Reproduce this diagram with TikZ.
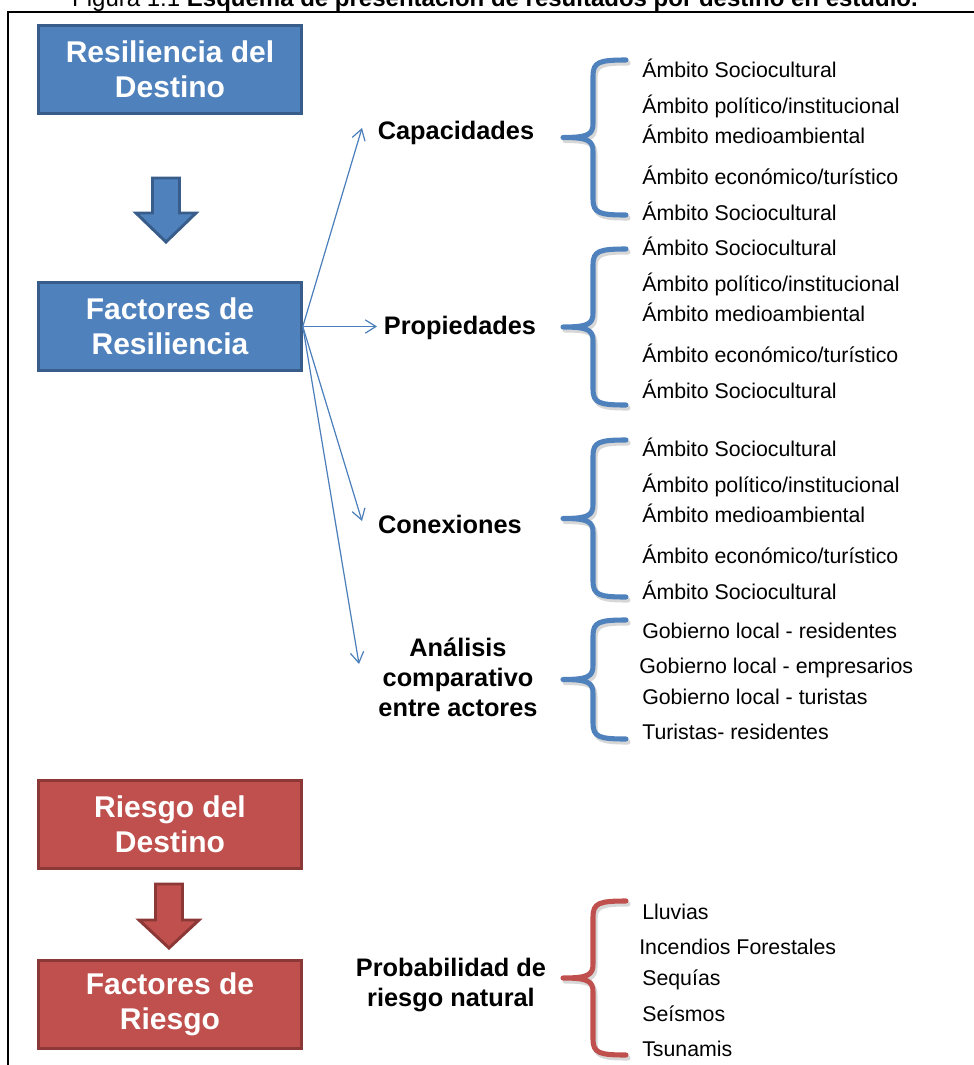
\documentclass[tikz,border=0pt]{standalone}
\usepackage{fontspec}
\setmainfont{Liberation Sans}
\usepackage{xcolor}
\usetikzlibrary{arrows.meta}

\definecolor{resblue}{HTML}{4F81BD}
\definecolor{resblueD}{HTML}{385D8A}
\definecolor{riskred}{HTML}{C0504D}
\definecolor{riskredD}{HTML}{8C3836}
\definecolor{linkblue}{HTML}{4A7EBB}

\tikzset{
  bluebox/.style={rectangle, fill=resblue, draw=resblueD, line width=2.2pt,
    minimum width=197pt, minimum height=66pt, inner sep=0pt, text=white,
    align=center, font=\bfseries\fontsize{22.5}{26}\selectfont},
  redbox/.style={bluebox, fill=riskred, draw=riskredD},
  cat/.style={inner sep=0pt, align=center, font=\bfseries\fontsize{19}{22.5}\selectfont},
  item/.style={anchor=base west, inner sep=0pt, font=\fontsize{16}{19}\selectfont},
  link/.style={->, linkblue, line width=0.9pt},
  curly/.style={line width=3.8pt, line cap=round, line join=round}
}

% curly brace opening to the right: top, middle, bottom
\newcommand{\curlypath}[3]{(626,#1) .. controls (599,#1) and (593,#1+2) .. (593,#1+16)
  -- (593,#2-14) .. controls (593,#2-3) and (588,#2) .. (563,#2)
  .. controls (588,#2) and (593,#2+3) .. (593,#2+14)
  -- (593,#3-16) .. controls (593,#3-2) and (599,#3) .. (626,#3)}

\begin{document}
\begin{tikzpicture}[x=0.75pt, y=-0.75pt, >={Straight Barb[length=8pt,width=10pt]}]
\useasboundingbox (0,0) rectangle (974,1065);

% Caption and frame
\node[anchor=base, inner sep=0pt, font=\fontsize{18}{21}\selectfont] (caption) at (495,6)
  {Figura 1.1 \textbf{Esquema de presentación de resultados por destino en estudio.}};
\draw[line width=1.5pt] (980,12) -- (8,12) -- (8,1070);

%--- Left column: main blocks ---
\node[bluebox] (resdest) at (170,69.5) {Resiliencia del\\Destino};
\node[bluebox] (factres) at (170,326.5) {Factores de\\Resiliencia};
\node[redbox] (riesdest) at (170,824.5) {Riesgo del\\Destino};
\node[redbox] (factries) at (170,1004.5) {Factores de\\Riesgo};

% Block arrows between the boxes
\foreach \cx/\ya/\yh/\yb/\fc/\dc in {166/178/213/242/resblue/resblueD, 169/884/920/948/riskred/riskredD} {
  \draw[fill=\fc, draw=\dc, line width=2.2pt]
    (\cx-13.5,\ya) -- (\cx+13.5,\ya) -- (\cx+13.5,\yh) -- (\cx+30,\yh)
    -- (\cx,\yb) -- (\cx-30,\yh) -- (\cx-13.5,\yh) -- cycle;
}

%--- Middle column: resilience factors ---
\node[cat] (capac) at (456,133) {Capacidades};
\node[cat] (propi) at (460,328) {Propiedades};
\node[cat] (conex) at (450,524) {Conexiones};
\node[cat, font=\bfseries\fontsize{19}{22.5}\selectfont] (analis) at (458,677)
  {Análisis\\comparativo\\entre actores};
\node[cat] (probab) at (451,985) {Probabilidad de\\riesgo natural};

% Arrow ends
\coordinate (tcap) at (362,128);
\coordinate (tpro) at (377,326.5);
\coordinate (tcon) at (362,521);
\coordinate (tana) at (359,664);

\foreach \tip in {tcap, tpro, tcon, tana}
  \draw[link] (factres.east) -- (\tip);

%--- Right column: braces ---
\foreach \ya/\yb/\col in {60/215/resblue, 249/405/resblue, 440/597/resblue,
                          620/739/resblue, 901/1055/riskred} {
  \pgfmathsetmacro\ym{(\ya+\yb)/2}
  \draw[curly, gray!70, opacity=0.45, shift={(2,3)}] \curlypath{\ya}{\ym}{\yb};
  \draw[curly, \col] \curlypath{\ya}{\ym}{\yb};
}

% Areas (same five lines in each group)
\foreach \grp/\dy in {cap/0, pro/178, con/379} {
  \node[item] (\grp-1) at (642,77+\dy) {Ámbito Sociocultural};
  \node[item] (\grp-2) at (642,113+\dy) {Ámbito político/institucional};
  \node[item] (\grp-3) at (642,143+\dy) {Ámbito medioambiental};
  \node[item] (\grp-4) at (642,184+\dy) {Ámbito económico/turístico};
  \node[item] (\grp-5) at (642,220+\dy) {Ámbito Sociocultural};
}

% Actors
\node[item] (act-1) at (642,638) {Gobierno local - residentes};
\node[item] (act-2) at (639,673) {Gobierno local - empresarios};
\node[item] (act-3) at (642,704) {Gobierno local - turistas};
\node[item] (act-4) at (642,739) {Turistas- residentes};

% Natural hazards
\node[item] (haz-1) at (642,919) {Lluvias};
\node[item] (haz-2) at (639,954) {Incendios Forestales};
\node[item] (haz-3) at (642,985) {Sequías};
\node[item] (haz-4) at (642,1021) {Seísmos};
\node[item] (haz-5) at (642,1056) {Tsunamis};
\end{tikzpicture}
\end{document}
